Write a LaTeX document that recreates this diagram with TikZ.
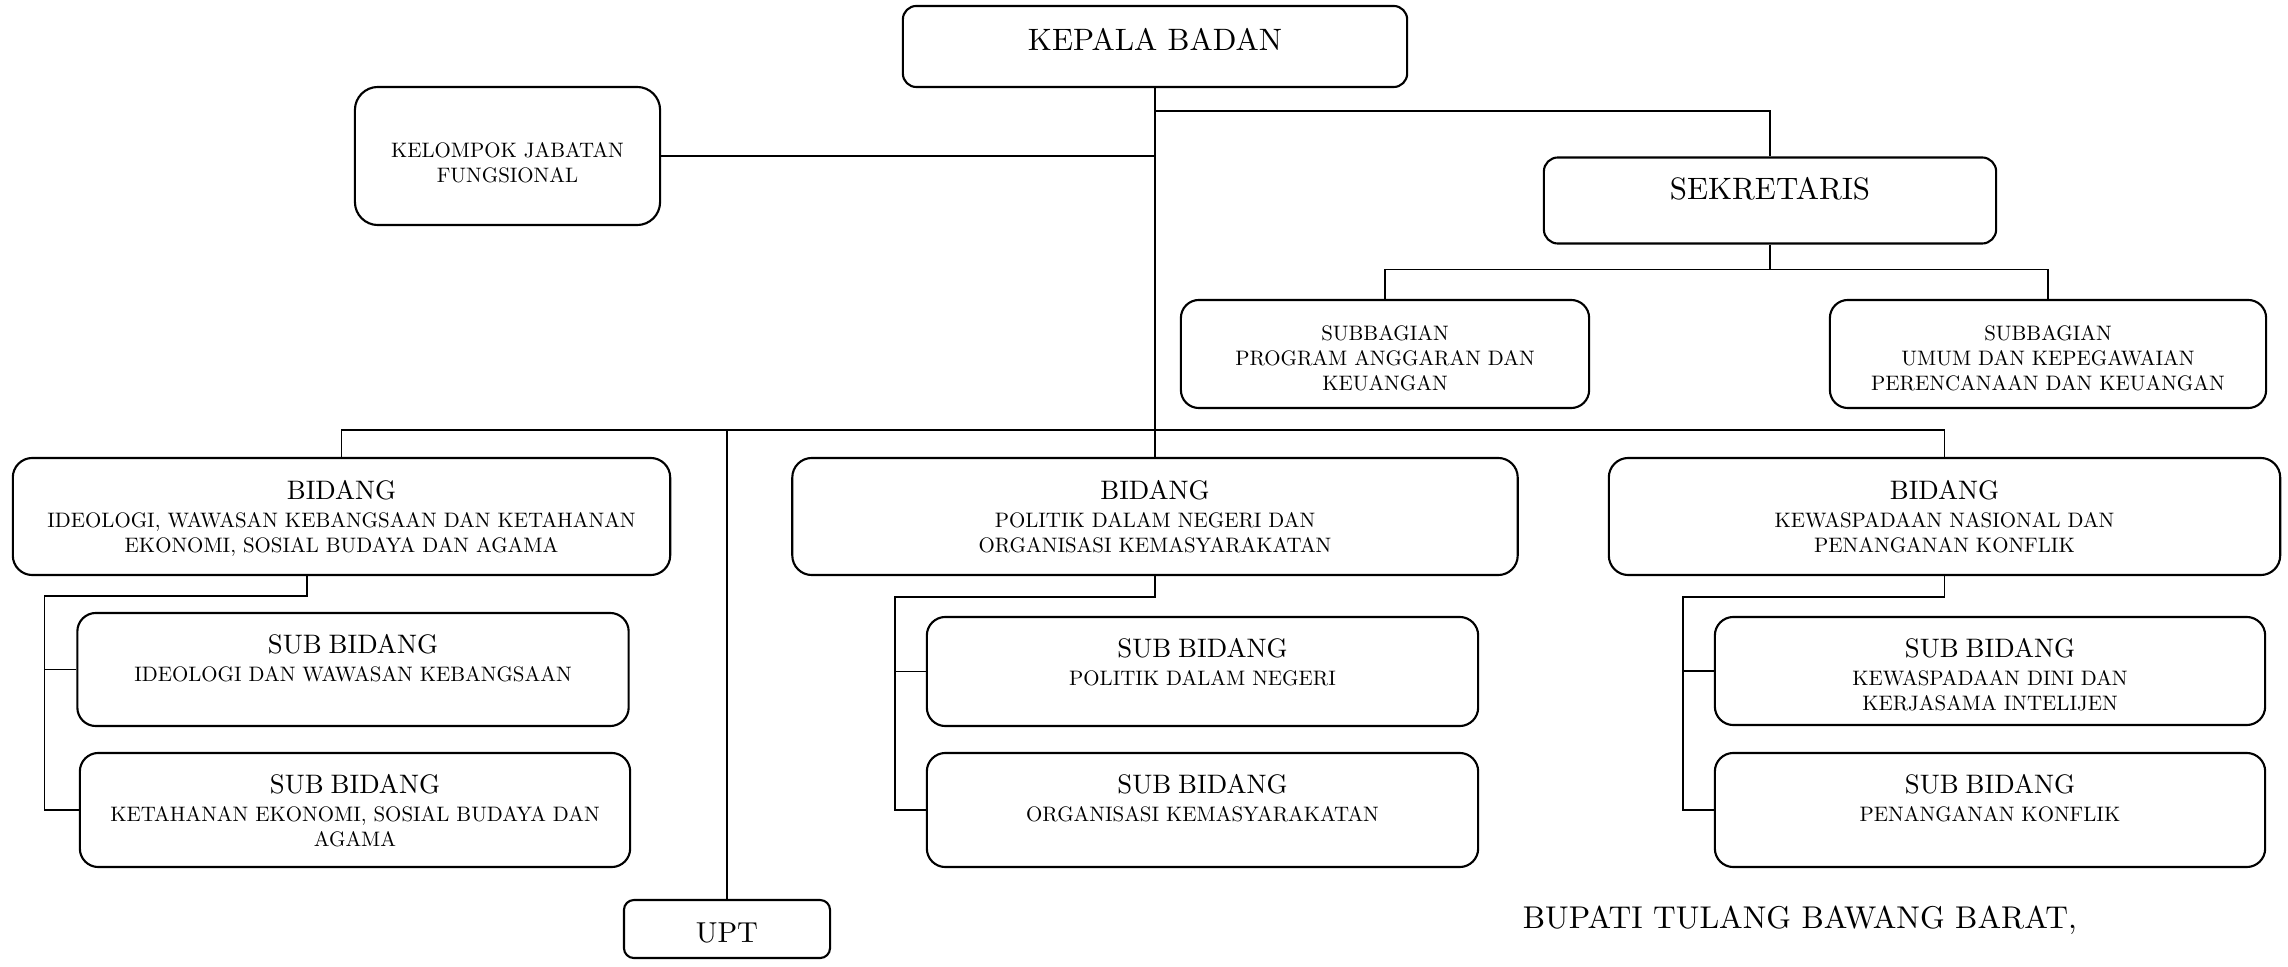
\documentclass[tikz,border=0pt]{standalone}
\usepackage{fontspec}
\setmainfont{lmroman10-regular.otf}
\usepackage{tikz}
\usetikzlibrary{positioning}
\newcommand{\judul}[1]{{\fontsize{7.6}{9}\selectfont #1}}

\begin{document}
\begin{tikzpicture}[x=0.01cm, y=-0.01cm, line width=0.5pt,
	box/.style={draw, line width=0.6pt, rounded corners=#1, inner sep=0pt, align=center,
		font=\fontsize{5.95}{7.1}\selectfont},
	big/.style={font=\fontsize{8.8}{10.5}\selectfont}]

		\useasboundingbox (0,0) rectangle (2288,967);

		\node[box=1.35mm, big, text width=5.04cm, text height=4.5mm, text depth=3.6mm] (kepala) at (1155,46.5) {KEPALA BADAN};
		\node[box=2.3mm, text width=3.05cm, text height=7.1mm, text depth=6.7mm] (kelompok) at (507.5,156) {KELOMPOK JABATAN\\ FUNGSIONAL};
		\node[box=1.4mm, big, text width=4.52cm, text height=4.2mm, text depth=4.4mm] (sekr) at (1770,200.5) {SEKRETARIS};

		\node[box=1.8mm, text width=4.08cm, text height=4.1mm, text depth=6.7mm] (subbag1) at (1385,354) {SUBBAGIAN\\ PROGRAM ANGGARAN DAN\\ KEUANGAN};
		\node[box=1.8mm, text width=4.36cm, text height=4.1mm, text depth=6.7mm] (subbag2) at (2048,354) {SUBBAGIAN\\ UMUM DAN KEPEGAWAIAN\\ PERENCANAAN DAN KEUANGAN};

		\node[box=1.95mm, text width=6.57cm, text height=4.2mm, text depth=7.5mm] (bid1) at (341.5,516.5) {\judul{BIDANG}\\[0.8pt] IDEOLOGI, WAWASAN KEBANGSAAN DAN KETAHANAN\\ EKONOMI, SOSIAL BUDAYA DAN AGAMA};
		\node[box=1.95mm, text width=7.25cm, text height=4.2mm, text depth=7.5mm] (bid2) at (1155,516.5) {\judul{BIDANG}\\[0.8pt] POLITIK DALAM NEGERI DAN\\ ORGANISASI KEMASYARAKATAN};
		\node[box=1.95mm, text width=6.71cm, text height=4.2mm, text depth=7.5mm] (bid3) at (1944.5,516.5) {\judul{BIDANG}\\[0.8pt] KEWASPADAAN NASIONAL DAN\\ PENANGANAN KONFLIK};

		\node[box=1.85mm, text width=5.51cm, text height=4.1mm, text depth=7.2mm] (sb11) at (353,669.5) {\judul{SUB BIDANG}\\[0.6pt] IDEOLOGI DAN WAWASAN KEBANGSAAN};
		\node[box=1.85mm, text width=5.5cm, text height=4.1mm, text depth=7.3mm] (sb12) at (355,810) {\judul{SUB BIDANG}\\[0.6pt] KETAHANAN EKONOMI, SOSIAL BUDAYA DAN\\ AGAMA};
		\node[box=1.85mm, text width=5.51cm, text height=4.1mm, text depth=6.8mm] (sb21) at (1202.5,671.5) {\judul{SUB BIDANG}\\[0.6pt] POLITIK DALAM NEGERI};
		\node[box=1.85mm, text width=5.51cm, text height=4.1mm, text depth=7.3mm] (sb22) at (1202.5,810) {\judul{SUB BIDANG}\\[0.6pt] ORGANISASI KEMASYARAKATAN};
		\node[box=1.85mm, text width=5.5cm, text height=4.1mm, text depth=6.7mm] (sb31) at (1990,671) {\judul{SUB BIDANG}\\[0.6pt] KEWASPADAAN DINI DAN\\ KERJASAMA INTELIJEN};
		\node[box=1.85mm, text width=5.5cm, text height=4.1mm, text depth=7.3mm] (sb32) at (1990,810) {\judul{SUB BIDANG}\\[0.6pt] PENANGANAN KONFLIK};

		\node[box=1mm, font=\fontsize{8.2}{10}\selectfont, text width=2.06cm, text height=4.2mm, text depth=1.6mm] (upt) at (727,929) {UPT};

		\node[anchor=base west, inner sep=0pt, font=\fontsize{8.95}{10.5}\selectfont] (bupati) at (1522,928) {BUPATI TULANG BAWANG BARAT,};

		\coordinate (ks) at (1155,111);
		\coordinate (bus) at (1155,430);
		\coordinate (k1) at (44.6,596);
		\coordinate (k2) at (895,597);
		\coordinate (k3) at (1683,597);

		\draw (kepala.south) -- (bid2.north);
		\draw (ks) -| (sekr.north);
		\draw (kelompok.east) -- (kelompok.east -| kepala.south);
		\draw (sekr.south) -- ++(0,25) coordinate (sk);
		\draw (subbag1.north) |- (sk) -| (subbag2.north);
		\draw (bid1.north) |- (bus) -| (bid3.north);
		\draw (upt.north) -- (upt.north |- bus);

		\draw ([xshift=-3.45mm]bid1.south) |- (k1) |- (sb12.west);
		\draw (sb11.west) -- (sb11.west -| k1);
		\draw (bid2.south) |- (k2) |- (sb22.west);
		\draw (sb21.west) -- (sb21.west -| k2);
		\draw (bid3.south) |- (k3) |- (sb32.west);
		\draw (sb31.west) -- (sb31.west -| k3);

	\end{tikzpicture}
\end{document}
